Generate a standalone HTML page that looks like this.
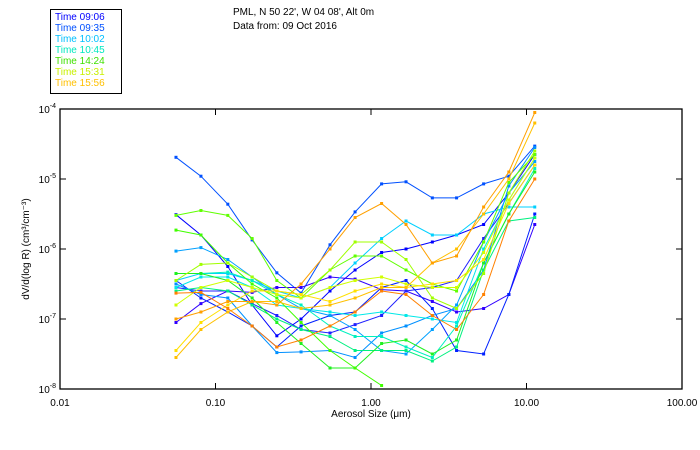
<!DOCTYPE html>
<html><head><meta charset="utf-8"><style>
body{margin:0;background:#fff;}
svg{display:block;font-family:"Liberation Sans","DejaVu Sans",sans-serif;}
</style></head><body>
<svg id="chart" width="700" height="450" viewBox="0 0 700 450">
<rect x="50.5" y="9.5" width="71" height="84" fill="#fff" stroke="#000"/>
<g id="legend" font-size="10"></g>
<text x="233" y="15" font-size="10">PML, N 50 22', W 04 08', Alt 0m</text>
<text x="233" y="29" font-size="10">Data from: 09 Oct 2016</text>
<g id="series"></g>
<rect x="60" y="109" width="622" height="280" fill="none" stroke="#000" stroke-width="1.3"/>
<g id="axes" font-size="10"></g>
<text x="371" y="417" font-size="10" text-anchor="middle">Aerosol Size (μm)</text>
<text transform="translate(29,249) rotate(-90)" font-size="10" text-anchor="middle">dV/d(log R) (cm³/cm⁻³)</text>
</svg>
<script>
const sizes=[0.0557,0.0806,0.12,0.172,0.248,0.355,0.545,0.79,1.17,1.68,2.48,3.55,5.3,7.7,11.3];
const xTicks=[0.01,0.1,1,10,100];
const xTickLabels=["0.01","0.10","1.00","10.00","100.00"];
const yTicks=[-4,-5,-6,-7,-8];
const legendLabels=["Time 09:06","Time 09:35","Time 10:02","Time 10:45","Time 14:24","Time 15:31","Time 15:56"];
const legendColors=["#0000ff","#0050ff","#00c0ff","#00e8c0","#40e000","#c8f000","#ffc000"];
const seriesColors=["#0050ff","#0000ff","#3000ff","#2020ff","#0020ff","#0090ff","#00a0ff","#00d0ff","#00e8e8","#00f0c0","#00f080","#20f020","#60ff00","#40ff00","#a0ff00","#d0ff00","#ffe000","#ffc000","#ffa000","#ff8000"];
const logValues=[
[-4.69,-4.96,-5.36,-5.87,-6.34,-6.63,-5.94,-5.47,-5.07,-5.04,-5.27,-5.27,-5.07,-4.96,-4.53],
[-5.51,-5.80,-6.25,-6.80,-7.24,-7.00,-6.60,-6.30,-6.05,-6.00,-5.90,-5.80,-5.65,-5.20,-4.65],
[-7.05,-6.78,-6.60,-6.62,-6.55,-6.55,-6.40,-6.43,-6.58,-6.60,-6.75,-6.90,-6.85,-6.65,-5.65],
[-6.55,-6.60,-6.60,-6.78,-6.95,-7.15,-7.20,-7.08,-6.95,-6.60,-6.55,-6.45,-5.85,-5.35,-4.80],
[-6.45,-6.70,-6.90,-7.10,-7.40,-7.10,-6.95,-6.90,-6.55,-6.45,-6.85,-7.45,-7.50,-6.65,-5.50],
[-6.50,-6.65,-6.70,-7.10,-7.48,-7.47,-7.45,-7.55,-7.20,-7.10,-6.95,-6.85,-6.30,-5.10,-4.55],
[-6.03,-5.98,-6.15,-6.40,-6.65,-6.85,-6.95,-7.15,-7.45,-7.50,-7.15,-6.80,-5.90,-5.20,-4.75],
[-6.45,-6.35,-6.35,-6.45,-6.60,-6.70,-6.55,-6.20,-5.85,-5.60,-5.80,-5.80,-5.50,-5.40,-5.40],
[-6.55,-6.40,-6.40,-6.55,-6.80,-6.85,-6.90,-6.95,-6.90,-6.95,-7.00,-7.05,-6.00,-5.30,-4.70],
[-6.35,-6.35,-6.33,-6.45,-6.65,-6.80,-7.10,-7.25,-7.25,-7.40,-7.55,-7.10,-6.20,-5.50,-4.85],
[-6.60,-6.55,-6.60,-6.80,-7.00,-7.15,-7.25,-7.45,-7.45,-7.45,-7.60,-7.40,-6.30,-5.60,-5.55],
[-6.35,-6.35,-6.45,-6.70,-7.05,-7.35,-7.70,-7.70,-7.35,-7.30,-7.50,-7.30,-6.20,-5.50,-4.90],
[-5.52,-5.45,-5.52,-5.85,-6.45,-6.70,-6.30,-6.10,-6.10,-6.30,-6.50,-6.60,-5.90,-5.05,-4.65],
[-5.73,-5.80,-6.20,-6.50,-6.70,-7.05,-7.45,-7.70,-7.95,null,null,null,null,null,null],
[-6.45,-6.22,-6.20,-6.40,-6.60,-6.65,-6.30,-5.90,-5.90,-6.15,-6.70,-6.85,-6.35,-5.20,-4.60],
[-6.80,-6.55,-6.45,-6.55,-6.65,-6.70,-6.55,-6.45,-6.40,-6.50,-6.55,-6.55,-6.05,-5.30,-4.70],
[-7.45,-7.05,-6.80,-6.60,-6.60,-6.65,-6.75,-6.60,-6.50,-6.55,-6.50,-6.45,-6.15,-5.35,-4.80],
[-7.55,-7.15,-6.90,-6.75,-6.75,-6.85,-6.80,-6.70,-6.55,-6.55,-6.20,-6.00,-5.50,-5.00,-4.20],
[-7.00,-6.90,-6.75,-6.75,-6.80,-6.50,-6.00,-5.55,-5.35,-5.65,-6.20,-6.10,-5.40,-4.90,-4.05],
[-6.63,-6.62,-6.85,-7.10,-7.40,-7.30,-7.10,-6.90,-6.60,-6.65,-6.95,-7.15,-6.65,-5.60,-5.00]
];
const NS="http://www.w3.org/2000/svg";
const X0=60,X1=682,Y0=109,Y1=389;
function xs(v){return X0+(Math.log10(v)+2)/4*(X1-X0);}
function ys(l){return Y0+(-4-l)/4*(Y1-Y0);}
function mk(tag,attrs,parent){const e=document.createElementNS(NS,tag);for(const k in attrs)e.setAttribute(k,attrs[k]);parent.appendChild(e);return e;}
const sg=document.getElementById('series');
logValues.forEach((ser,si)=>{
  const g=mk('g',{},sg);
  
  
  const c=seriesColors[si];
  let d='';let started=false;
  ser.forEach((l,i)=>{if(l===null){return;}d+=(started?'L':'M')+xs(sizes[i]).toFixed(1)+' '+Math.max(Y0,ys(l)).toFixed(1);started=true;});
  const p=mk('path',{d:d,fill:'none',stroke:c,'stroke-width':1},g);
  
  
  ser.forEach((l,i)=>{if(l===null)return;const y=ys(l);if(y<Y0)return;
    const r=mk('rect',{x:xs(sizes[i])-1.5,y:y-1.5,width:3,height:3,fill:c},g);
    
    
  });
});
const ag=document.getElementById('axes');
xTicks.forEach((t,i)=>{const x=xs(t);
  mk('line',{x1:x,x2:x,y1:Y1,y2:Y1-6,stroke:'#000'},ag);
  mk('line',{x1:x,x2:x,y1:Y0,y2:Y0+6,stroke:'#000'},ag);
  const tx=mk('text',{x:x,y:Y1+17,'text-anchor':'middle'},ag);tx.textContent=xTickLabels[i];
  
  
});
yTicks.forEach(t=>{const y=ys(t);
  mk('line',{x1:X0,x2:X0+6,y1:y,y2:y,stroke:'#000'},ag);
  mk('line',{x1:X1,x2:X1-6,y1:y,y2:y,stroke:'#000'},ag);
  const tx=mk('text',{x:X0-4,y:y+4,'text-anchor':'end'},ag);
  tx.innerHTML='10<tspan dy="-5" font-size="7">'+t+'</tspan>';
  
  
});
const lg=document.getElementById('legend');
legendLabels.forEach((lab,i)=>{
  const t=mk('text',{x:55,y:20+i*11,fill:legendColors[i]},lg);t.textContent=lab;
  
  
});
</script>
</body></html>
